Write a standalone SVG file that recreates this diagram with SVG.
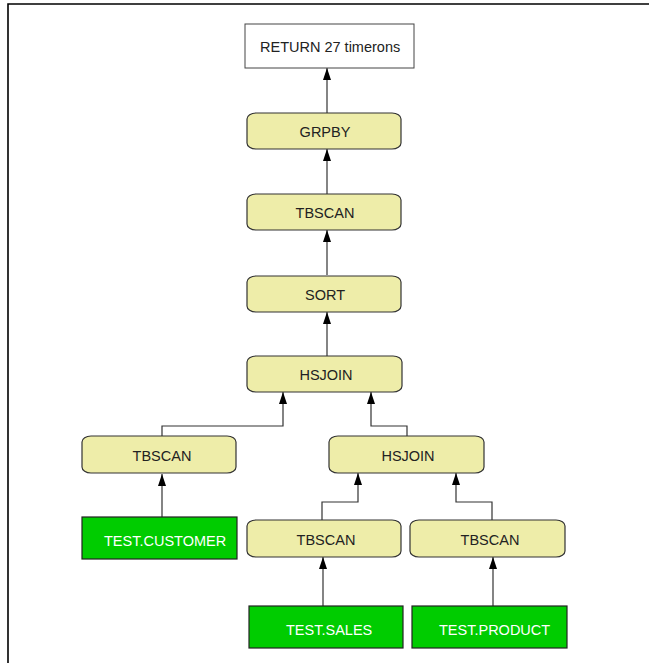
<svg xmlns="http://www.w3.org/2000/svg" width="649" height="663" viewBox="0 0 649 663">
<defs>
<style>
.op{fill:#EEEDA9;stroke:#333;stroke-width:1.2}
.tb{fill:#00CC00;stroke:#222;stroke-width:1.2}
.rt{fill:#fff;stroke:#444;stroke-width:1}
.t{font-family:"Liberation Sans",Arial,sans-serif;font-size:14.5px;fill:#222}
.tw{font-family:"Liberation Sans",Arial,sans-serif;font-size:14.5px;fill:#fff}
.c{fill:none;stroke:#333;stroke-width:1.2}
</style>
<marker id="ah" viewBox="0 0 12 8" refX="12" refY="4" markerWidth="12" markerHeight="8" markerUnits="userSpaceOnUse" orient="auto">
<path d="M0,0 L12,4 L0,8 z" fill="#000"/>
</marker>
</defs>
<rect width="649" height="663" fill="#fff"/>
<path d="M8,663 V4 H649" fill="none" stroke="#000" stroke-width="1.6"/>
<g id="connectors">
<path class="c" d="M327,113 V68" marker-end="url(#ah)"/>
<path class="c" d="M327,194 V149" marker-end="url(#ah)"/>
<path class="c" d="M327,275 V230" marker-end="url(#ah)"/>
<path class="c" d="M327,356 V312" marker-end="url(#ah)"/>
<path class="c" d="M162,436 V426 H283 V392" marker-end="url(#ah)"/>
<path class="c" d="M407,436 V426 H371 V392" marker-end="url(#ah)"/>
<path class="c" d="M162,517 V474" marker-end="url(#ah)"/>
<path class="c" d="M322,520 V502 H358 V473" marker-end="url(#ah)"/>
<path class="c" d="M492,520 V502 H456 V473" marker-end="url(#ah)"/>
<path class="c" d="M323,606 V557" marker-end="url(#ah)"/>
<path class="c" d="M493,606 V557" marker-end="url(#ah)"/>
</g>
<g id="return">
<rect class="rt" x="245" y="24" width="169" height="44"/>
<text class="t" x="260" y="52">RETURN 27 timerons</text>
</g>
<g id="grpby">
<rect class="op" x="247" y="113" width="154" height="36" rx="9" ry="6"/>
<text class="t" x="325" y="137" text-anchor="middle">GRPBY</text>
</g>
<g id="tbscan1">
<rect class="op" x="247" y="194" width="154" height="36" rx="9" ry="6"/>
<text class="t" x="325" y="218" text-anchor="middle">TBSCAN</text>
</g>
<g id="sort">
<rect class="op" x="247" y="276" width="154" height="36" rx="9" ry="6"/>
<text class="t" x="325" y="300" text-anchor="middle">SORT</text>
</g>
<g id="hsjoin1">
<rect class="op" x="247" y="356" width="155" height="36" rx="9" ry="6"/>
<text class="t" x="326" y="380" text-anchor="middle">HSJOIN</text>
</g>
<g id="tbscan2">
<rect class="op" x="82" y="436" width="154" height="37" rx="9" ry="6"/>
<text class="t" x="162" y="461" text-anchor="middle">TBSCAN</text>
</g>
<g id="hsjoin2">
<rect class="op" x="329" y="436" width="155" height="37" rx="9" ry="6"/>
<text class="t" x="408" y="461" text-anchor="middle">HSJOIN</text>
</g>
<g id="customer">
<rect class="tb" x="82" y="517" width="155" height="42"/>
<text class="tw" x="104" y="546">TEST.CUSTOMER</text>
</g>
<g id="tbscan3">
<rect class="op" x="247" y="520" width="154" height="37" rx="9" ry="6"/>
<text class="t" x="326" y="545" text-anchor="middle">TBSCAN</text>
</g>
<g id="tbscan4">
<rect class="op" x="410" y="520" width="155" height="37" rx="9" ry="6"/>
<text class="t" x="490" y="545" text-anchor="middle">TBSCAN</text>
</g>
<g id="sales">
<rect class="tb" x="249" y="606" width="154" height="42"/>
<text class="tw" x="286" y="635">TEST.SALES</text>
</g>
<g id="product">
<rect class="tb" x="412" y="606" width="155" height="42"/>
<text class="tw" x="439" y="635">TEST.PRODUCT</text>
</g>
</svg>
